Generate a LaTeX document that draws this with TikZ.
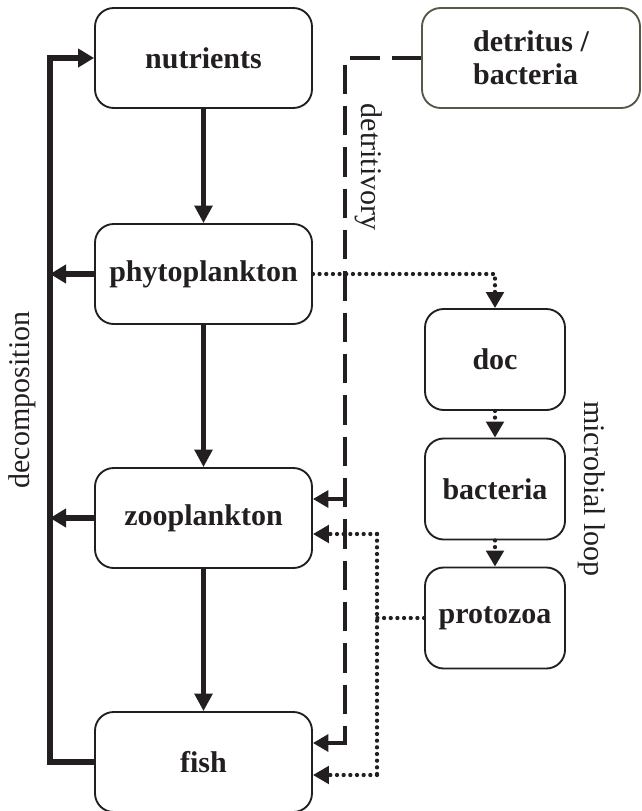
\documentclass[tikz,border=0pt]{standalone}
\usepackage{fontspec}
\setmainfont{Liberation Serif}
\usetikzlibrary{arrows.meta,calc}
\definecolor{ink}{RGB}{35,31,32}
\definecolor{detcol}{RGB}{88,88,72}
\begin{document}
\begin{tikzpicture}[x=0.75pt,y=-0.75pt,
  lbl/.style={font=\fontsize{22.5}{25}\selectfont, text=ink, inner sep=0pt},
  box/.style={draw=ink, line width=1.4pt, rounded corners=14pt, inner sep=0pt,
    font=\bfseries\fontsize{22.5}{25}\selectfont, text=ink, align=left},
  bigbox/.style={box, minimum width=162.75pt, minimum height=75pt},
  smallbox/.style={box, minimum width=105pt, minimum height=75.75pt},
  solidarr/.style={draw=ink, line width=3.1pt, -{Triangle[length=13pt,width=13pt]}},
  decomp/.style={draw=ink, line width=4.2pt},
  decomparr/.style={decomp, -{Triangle[length=12pt,width=13.5pt]}},
  dashline/.style={draw=ink, line width=3.6pt, dash pattern=on 22pt off 9pt},
  dasharr/.style={draw=ink, line width=3.6pt, -{Triangle[length=11.5pt,width=12.5pt]}},
  dotline/.style={draw=ink, line width=3.2pt, line cap=round, dash pattern=on 0pt off 5pt},
  dotarr/.style={dotline, -{Triangle[length=12pt,width=13pt]}}
]
\useasboundingbox (0,0) rectangle (642,811);

% main chain
\node[bigbox] (nut)   at (203.5,58)  {nutrients};
\node[bigbox] (phyto) at (203.5,274) {phytoplankton};
\node[bigbox] (zoo)   at (203.5,518) {zooplankton};
\node[bigbox] (fish)  at (203.5,762) {fish};

% detritus
\node[bigbox, draw=detcol, minimum width=163.5pt] (det) at (531,58) {detritus /\\bacteria};

% microbial loop
\node[smallbox] (doc)   at (495,359.5) {doc};
\node[smallbox] (bact)  at (495,489)   {bacteria};
\node[smallbox] (proto) at (495,618)   {protozoa};

% labels
\node[lbl, rotate=90]  (declbl) at (22,400)  {decomposition};
\node[lbl, rotate=-90] (detlbl) at (369,167) {detritivory};
\node[lbl, rotate=-90] (miclbl) at (592,489) {microbial loop};

% vertical arrows
\draw[solidarr] (nut.south) -- (phyto.north);
\draw[solidarr] (phyto.south) -- (zoo.north);
\draw[solidarr] (zoo.south) -- (fish.north);

% decomposition loop
\coordinate (dtop) at (50,58);
\draw[decomparr] (fish.west) -| (dtop) -- (nut.west);
\draw[decomparr] (phyto.west) -- (phyto.west -| dtop);
\draw[decomparr] (zoo.west) -- (zoo.west -| dtop);

% detritivory
\coordinate (dcorner) at (345,58);
\coordinate (dz) at (345,499);
\coordinate (df) at (345,743);
\draw[dashline] (det.west) -- (dcorner) -- (df);
\draw[dasharr] (dz) -- (dz -| zoo.east);
\draw[dasharr] ($(df)+(0,-12)$) -- (df) -- (df -| fish.east);

% microbial loop dotted
\draw[dotarr] (phyto.east) -- (phyto.east -| doc.north) -- (doc.north);
\draw[dotarr] (doc.south) -- (bact.north);
\draw[dotarr] (bact.south) -- (proto.north);
\coordinate (pj) at (377,618);
\coordinate (pz) at (377,534);
\coordinate (pf) at (377,775);
\draw[dotline] (proto.west) -- (pj);
\draw[dotline] (pz) -- (pf);
\draw[dotarr] (pz) -- (pz -| zoo.east);
\draw[dotarr] (pf) -- (pf -| fish.east);
\end{tikzpicture}
\end{document}
